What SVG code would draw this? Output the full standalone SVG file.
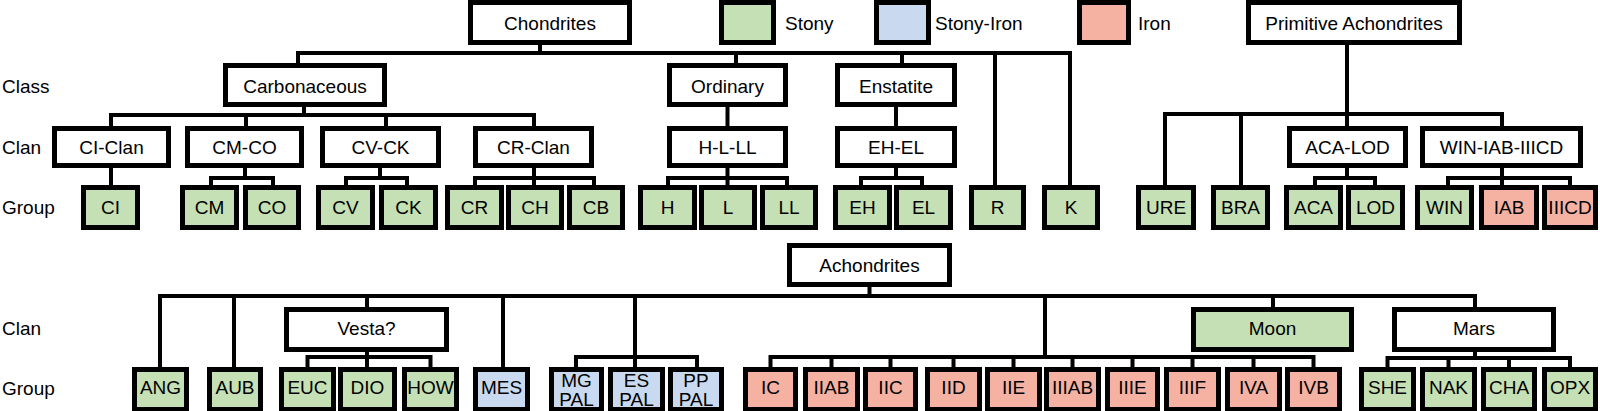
<svg xmlns="http://www.w3.org/2000/svg" width="1600" height="411" viewBox="0 0 1600 411">
<style>
.b{fill:#fff;stroke:#000;stroke-width:5}
.g{fill:#C5E0B4;stroke:#000;stroke-width:5}
.s{fill:#C9DAF0;stroke:#000;stroke-width:5}
.r{fill:#F5B2A3;stroke:#000;stroke-width:5}
text{font-family:"Liberation Sans",Arial,sans-serif;font-size:19px;fill:#000;text-anchor:middle}
.lab{text-anchor:start}
#connectors path{fill:none;stroke:#000;stroke-width:4}
</style>
<rect width="1600" height="411" fill="#fff"/>
<g id="connectors">
<path d="M298,65 V53 H1070 V187"/><path d="M540,45 V53"/><path d="M736,53 V65"/><path d="M902,53 V65"/><path d="M995,53 V187"/>
<path d="M304,107 V115"/><path d="M111,128 V115 H534 V128"/><path d="M246,115 V128"/><path d="M386,115 V128"/>
<path d="M727.5,107 V128"/><path d="M896,107 V128"/>
<path d="M111,168 V187"/>
<path d="M245,168 V178"/><path d="M211,187 V178 H273 V187"/>
<path d="M380,168 V178"/><path d="M346,187 V178 H407 V187"/>
<path d="M534,168 V187"/><path d="M475,187 V178 H594 V187"/>
<path d="M727.5,168 V187"/><path d="M668,187 V178 H787 V187"/>
<path d="M896,168 V178"/><path d="M861,187 V178 H922 V187"/>
<path d="M1347,45 V128"/><path d="M1165,187 V114 H1502 V128"/><path d="M1241,114 V187"/>
<path d="M1347,168 V178"/><path d="M1315,187 V178 H1375 V187"/>
<path d="M1502,168 V187"/><path d="M1448,187 V178 H1570 V187"/>
<path d="M869.5,287 V296"/><path d="M160,369 V296 H1475 V309"/>
<path d="M234,296 V369"/><path d="M367,296 V309"/><path d="M503,296 V369"/>
<path d="M635,296 V369"/><path d="M576,369 V357 H697 V369"/>
<path d="M1045,296 V357"/><path d="M770.5,369 V357 H1313.5 V369"/>
<path d="M831.5,357 V369"/><path d="M890.5,357 V369"/><path d="M953.5,357 V369"/><path d="M1013.5,357 V369"/><path d="M1072.5,357 V369"/><path d="M1132.5,357 V369"/><path d="M1192.5,357 V369"/><path d="M1253.5,357 V369"/>
<path d="M1273,296 V309"/>
<path d="M367,352 V369"/><path d="M307.5,369 V357 H430.5 V369"/>
<path d="M1475,352 V358"/><path d="M1387.5,369 V358 H1570 V369"/><path d="M1448.5,358 V369"/><path d="M1509,358 V369"/>
</g>
<g id="row-labels">
<text class="lab" x="2" y="93">Class</text>
<text class="lab" x="2" y="154">Clan</text>
<text class="lab" x="2" y="214">Group</text>
<text class="lab" x="2" y="335">Clan</text>
<text class="lab" x="2" y="395">Group</text>
</g>
<g id="legend">
<rect class="g" x="721.5" y="2.5" width="52" height="40"/><text class="lab" x="785" y="30">Stony</text>
<rect class="s" x="876.5" y="2.5" width="52" height="40"/><text class="lab" x="935" y="30">Stony-Iron</text>
<rect class="r" x="1079.5" y="2.5" width="49" height="40"/><text class="lab" x="1138" y="30">Iron</text>
</g>
<g id="chondrites"><rect class="b" x="470.5" y="2.5" width="159" height="40"/><text x="550" y="30">Chondrites</text></g>
<g id="primitive-achondrites"><rect class="b" x="1248.5" y="2.5" width="211" height="40"/><text x="1354" y="30">Primitive Achondrites</text></g>
<g id="carbonaceous"><rect class="b" x="225.5" y="65.5" width="159" height="39"/><text x="305" y="93">Carbonaceous</text></g>
<g id="ordinary"><rect class="b" x="669.5" y="65.5" width="116" height="39"/><text x="727.5" y="93">Ordinary</text></g>
<g id="enstatite"><rect class="b" x="837.5" y="65.5" width="117" height="39"/><text x="896" y="93">Enstatite</text></g>
<g id="ci-clan"><rect class="b" x="54.5" y="128.5" width="114" height="37"/><text x="111.5" y="154">CI-Clan</text></g>
<g id="cm-co"><rect class="b" x="187.5" y="128.5" width="114" height="37"/><text x="244.5" y="154">CM-CO</text></g>
<g id="cv-ck"><rect class="b" x="322.5" y="128.5" width="116" height="37"/><text x="380.5" y="154">CV-CK</text></g>
<g id="cr-clan"><rect class="b" x="475.5" y="128.5" width="116" height="37"/><text x="533.5" y="154">CR-Clan</text></g>
<g id="h-l-ll"><rect class="b" x="669.5" y="128.5" width="116" height="37"/><text x="727.5" y="154">H-L-LL</text></g>
<g id="eh-el"><rect class="b" x="837.5" y="128.5" width="117" height="37"/><text x="896" y="154">EH-EL</text></g>
<g id="aca-lod"><rect class="b" x="1289.5" y="128.5" width="116" height="37"/><text x="1347.5" y="154">ACA-LOD</text></g>
<g id="win-iab-iiicd"><rect class="b" x="1422.5" y="128.5" width="158" height="37"/><text x="1501.5" y="154">WIN-IAB-IIICD</text></g>
<g id="ci"><rect class="g" x="83.5" y="187.5" width="54" height="40"/><text x="110.5" y="214">CI</text></g>
<g id="cm"><rect class="g" x="182.5" y="187.5" width="54" height="40"/><text x="209.5" y="214">CM</text></g>
<g id="co"><rect class="g" x="245.5" y="187.5" width="53" height="40"/><text x="272" y="214">CO</text></g>
<g id="cv"><rect class="g" x="318.5" y="187.5" width="54" height="40"/><text x="345.5" y="214">CV</text></g>
<g id="ck"><rect class="g" x="381.5" y="187.5" width="54" height="40"/><text x="408.5" y="214">CK</text></g>
<g id="cr"><rect class="g" x="447.5" y="187.5" width="54" height="40"/><text x="474.5" y="214">CR</text></g>
<g id="ch"><rect class="g" x="508.5" y="187.5" width="53" height="40"/><text x="535" y="214">CH</text></g>
<g id="cb"><rect class="g" x="569.5" y="187.5" width="53" height="40"/><text x="596" y="214">CB</text></g>
<g id="h"><rect class="g" x="640.5" y="187.5" width="54" height="40"/><text x="667.5" y="214">H</text></g>
<g id="l"><rect class="g" x="701.5" y="187.5" width="53" height="40"/><text x="728" y="214">L</text></g>
<g id="ll"><rect class="g" x="762.5" y="187.5" width="53" height="40"/><text x="789" y="214">LL</text></g>
<g id="eh"><rect class="g" x="835.5" y="187.5" width="54" height="40"/><text x="862.5" y="214">EH</text></g>
<g id="el"><rect class="g" x="896.5" y="187.5" width="54" height="40"/><text x="923.5" y="214">EL</text></g>
<g id="r"><rect class="g" x="971.5" y="187.5" width="52" height="40"/><text x="997.5" y="214">R</text></g>
<g id="k"><rect class="g" x="1044.5" y="187.5" width="53" height="40"/><text x="1071" y="214">K</text></g>
<g id="ure"><rect class="g" x="1138.5" y="187.5" width="55" height="40"/><text x="1166" y="214">URE</text></g>
<g id="bra"><rect class="g" x="1213.5" y="187.5" width="54" height="40"/><text x="1240.5" y="214">BRA</text></g>
<g id="aca"><rect class="g" x="1286.5" y="187.5" width="54" height="40"/><text x="1313.5" y="214">ACA</text></g>
<g id="lod"><rect class="g" x="1348.5" y="187.5" width="54" height="40"/><text x="1375.5" y="214">LOD</text></g>
<g id="win"><rect class="g" x="1417.5" y="187.5" width="54" height="40"/><text x="1444.5" y="214">WIN</text></g>
<g id="iab"><rect class="r" x="1481.5" y="187.5" width="55" height="40"/><text x="1509" y="214">IAB</text></g>
<g id="iiicd"><rect class="r" x="1544.5" y="187.5" width="51" height="40"/><text x="1570" y="214">IIICD</text></g>
<g id="achondrites"><rect class="b" x="789.5" y="245.5" width="160" height="39"/><text x="869.5" y="272">Achondrites</text></g>
<g id="vesta"><rect class="b" x="286.5" y="309.5" width="160" height="40"/><text x="366.5" y="335">Vesta?</text></g>
<g id="moon"><rect class="g" x="1193.5" y="309.5" width="158" height="40"/><text x="1272.5" y="335">Moon</text></g>
<g id="mars"><rect class="b" x="1394.5" y="309.5" width="159" height="40"/><text x="1474" y="335">Mars</text></g>
<g id="ang"><rect class="g" x="134.5" y="369.5" width="52" height="40"/><text x="160.5" y="394">ANG</text></g>
<g id="aub"><rect class="g" x="209.5" y="369.5" width="51" height="40"/><text x="235" y="394">AUB</text></g>
<g id="euc"><rect class="g" x="281.5" y="369.5" width="52" height="40"/><text x="307.5" y="394">EUC</text></g>
<g id="dio"><rect class="g" x="340.5" y="369.5" width="54" height="40"/><text x="367.5" y="394">DIO</text></g>
<g id="how"><rect class="g" x="404.5" y="369.5" width="52" height="40"/><text x="430.5" y="394">HOW</text></g>
<g id="mes"><rect class="s" x="475.5" y="369.5" width="52" height="40"/><text x="501.5" y="394">MES</text></g>
<g id="mg-pal"><rect class="s" x="551.5" y="369.5" width="50" height="40"/><text x="576.5" y="387">MG</text><text x="576.5" y="406">PAL</text></g>
<g id="es-pal"><rect class="s" x="610.5" y="369.5" width="52" height="40"/><text x="636.5" y="387">ES</text><text x="636.5" y="406">PAL</text></g>
<g id="pp-pal"><rect class="s" x="670.5" y="369.5" width="51" height="40"/><text x="696" y="387">PP</text><text x="696" y="406">PAL</text></g>
<g id="ic"><rect class="r" x="745.5" y="369.5" width="50" height="40"/><text x="770.5" y="394">IC</text></g>
<g id="iiab"><rect class="r" x="805.5" y="369.5" width="52" height="40"/><text x="831.5" y="394">IIAB</text></g>
<g id="iic"><rect class="r" x="865.5" y="369.5" width="50" height="40"/><text x="890.5" y="394">IIC</text></g>
<g id="iid"><rect class="r" x="927.5" y="369.5" width="52" height="40"/><text x="953.5" y="394">IID</text></g>
<g id="iie"><rect class="r" x="987.5" y="369.5" width="52" height="40"/><text x="1013.5" y="394">IIE</text></g>
<g id="iiiab"><rect class="r" x="1046.5" y="369.5" width="52" height="40"/><text x="1072.5" y="394">IIIAB</text></g>
<g id="iiie"><rect class="r" x="1107.5" y="369.5" width="50" height="40"/><text x="1132.5" y="394">IIIE</text></g>
<g id="iiif"><rect class="r" x="1166.5" y="369.5" width="52" height="40"/><text x="1192.5" y="394">IIIF</text></g>
<g id="iva"><rect class="r" x="1227.5" y="369.5" width="52" height="40"/><text x="1253.5" y="394">IVA</text></g>
<g id="ivb"><rect class="r" x="1287.5" y="369.5" width="52" height="40"/><text x="1313.5" y="394">IVB</text></g>
<g id="she"><rect class="g" x="1361.5" y="369.5" width="52" height="40"/><text x="1387.5" y="394">SHE</text></g>
<g id="nak"><rect class="g" x="1422.5" y="369.5" width="52" height="40"/><text x="1448.5" y="394">NAK</text></g>
<g id="cha"><rect class="g" x="1483.5" y="369.5" width="51" height="40"/><text x="1509" y="394">CHA</text></g>
<g id="opx"><rect class="g" x="1544.5" y="369.5" width="51" height="40"/><text x="1570" y="394">OPX</text></g>
</svg>
